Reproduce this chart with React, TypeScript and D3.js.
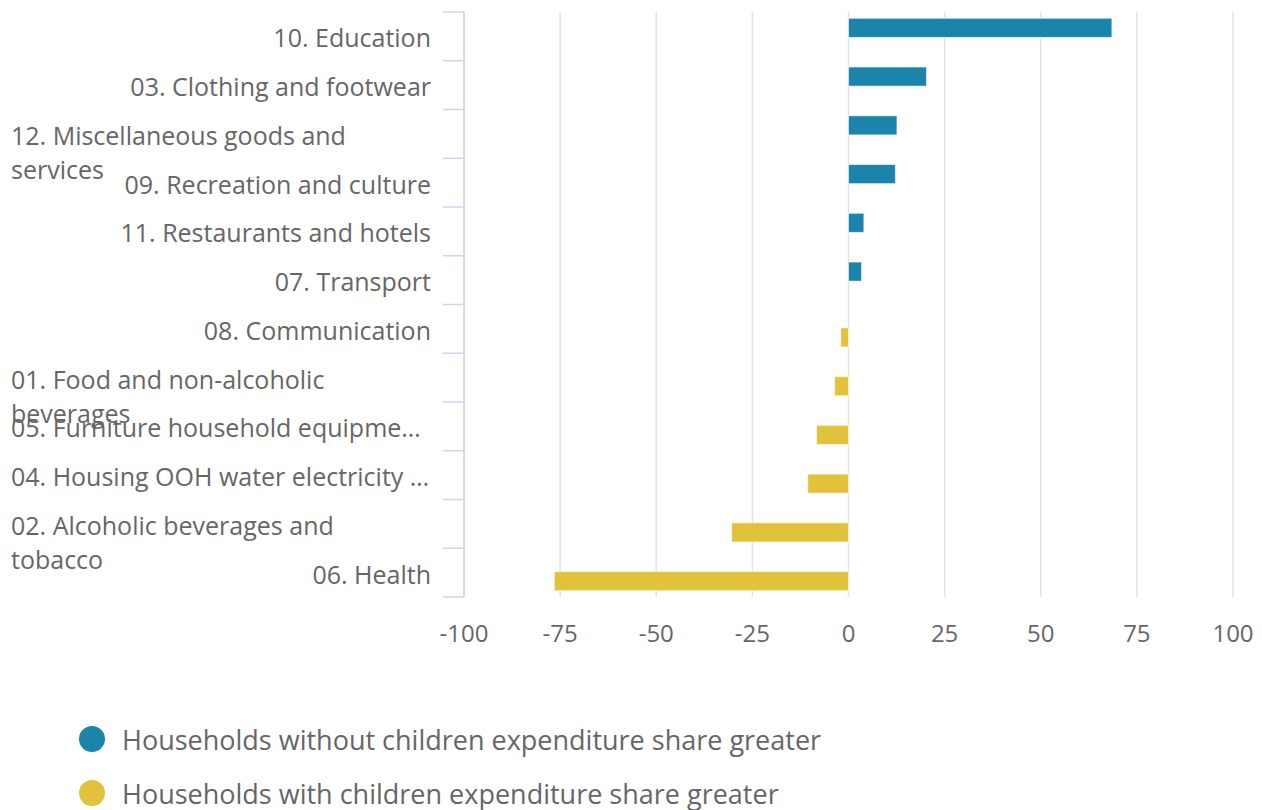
import React from "react";
import * as d3 from "d3";

const categories: string[] = [
  "10. Education",
  "03. Clothing and footwear",
  "12. Miscellaneous goods and\nservices",
  "09. Recreation and culture",
  "11. Restaurants and hotels",
  "07. Transport",
  "08. Communication",
  "01. Food and non-alcoholic\nbeverages",
  "05. Furniture household equipme…",
  "04. Housing OOH water electricity …",
  "02. Alcoholic beverages and\ntobacco",
  "06. Health",
];
const truncated = new Set<string>([
  "05. Furniture household equipme…",
  "04. Housing OOH water electricity …",
]);

const withoutChildren: (number | null)[] = [68.5, 20.3, 12.6, 12.2, 4.0, 3.4, null, null, null, null, null, null];
const withChildren: (number | null)[] = [null, null, null, null, null, null, -2.0, -3.6, -8.3, -10.6, -30.4, -76.5];

const seriesNames = [
  "Households without children expenditure share greater",
  "Households with children expenditure share greater",
];
const seriesColors = ["#1a84aa", "#e2c23a"];
const xTicks = [-100, -75, -50, -25, 0, 25, 50, 75, 100];

const W = 1262;
const H = 810;
const left = 464;
const right = 1233;
const top = 12;
const bottom = 597;
const font = "'Open Sans', 'Noto Sans', sans-serif";
const textColor = "#666666";

export default function App() {
  const x = d3.scaleLinear().domain([-100, 100]).range([left, right]);
  const y = d3.scaleBand<string>().domain(categories).range([top, bottom]).padding(0);
  const bw = y.bandwidth();
  const sub = d3
    .scaleBand<string>()
    .domain(["0", "1"])
    .range([bw * 0.15, bw * 0.85])
    .padding(0);
  const barH = sub.bandwidth() * 1.12;
  const series = [withoutChildren, withChildren];

  return (
    <div style={{ position: "absolute", left: 0, top: 0 }}>
      <svg width={W} height={H} style={{ display: "block", fontFamily: font }}>
        {/* grid lines */}
        {xTicks.map((t) => (
          <line key={"g" + t} x1={x(t)} x2={x(t)} y1={top} y2={bottom} stroke="#e3e3e3" strokeWidth={1.5} />
        ))}
        {/* y axis line and ticks */}
        <line x1={left} x2={left} y1={top} y2={bottom} stroke="#ccd6eb" strokeWidth={1.5} />
        {d3.range(categories.length + 1).map((i) => {
          const yy = i < categories.length ? (y(categories[i]) as number) : bottom;
          return <line key={"t" + i} x1={left - 21} x2={left} y1={yy} y2={yy} stroke="#ccd6eb" strokeWidth={1.5} />;
        })}
        {/* bars */}
        {series.map((vals, si) =>
          vals.map((v, i) => {
            if (v == null) return null;
            const c = categories[i];
            const cy = (y(c) as number) + (sub(String(si)) as number) + sub.bandwidth() / 2;
            const x0 = x(Math.min(0, v));
            const x1 = x(Math.max(0, v));
            return (
              <rect
                key={"b" + si + "-" + i}
                x={x0}
                y={cy - barH / 2}
                width={x1 - x0}
                height={barH}
                fill={seriesColors[si]}
                stroke="#ffffff"
                strokeOpacity={0.6}
                strokeWidth={1}
              />
            );
          })
        )}
        {/* category labels */}
        {categories.map((c) => {
          const lines = c.split("\n");
          const cy = (y(c) as number) + bw / 2 + 11;
          if (lines.length === 1 && !truncated.has(c)) {
            return (
              <text key={"l" + c} x={left - 33} y={cy} textAnchor="end" fontSize={25} fill={textColor}>
                {c}
              </text>
            );
          }
          return (
            <text key={"l" + c} x={11} y={cy} textAnchor="start" fontSize={25} fill={textColor}>
              {lines.map((ln, k) => (
                <tspan key={k} x={11} dy={k === 0 ? 0 : 34}>
                  {ln}
                </tspan>
              ))}
            </text>
          );
        })}
        {/* x labels */}
        {xTicks.map((t) => (
          <text key={"x" + t} x={x(t)} y={642} textAnchor="middle" fontSize={24} fill={textColor}>
            {t}
          </text>
        ))}
        {/* legend */}
        {seriesNames.map((n, i) => (
          <g key={"lg" + i} transform={`translate(0, ${739 + i * 54})`}>
            <circle cx={92} cy={0} r={13} fill={seriesColors[i]} />
            <text x={122} y={11} fontSize={27} fill={textColor}>
              {n}
            </text>
          </g>
        ))}
      </svg>
    </div>
  );
}
